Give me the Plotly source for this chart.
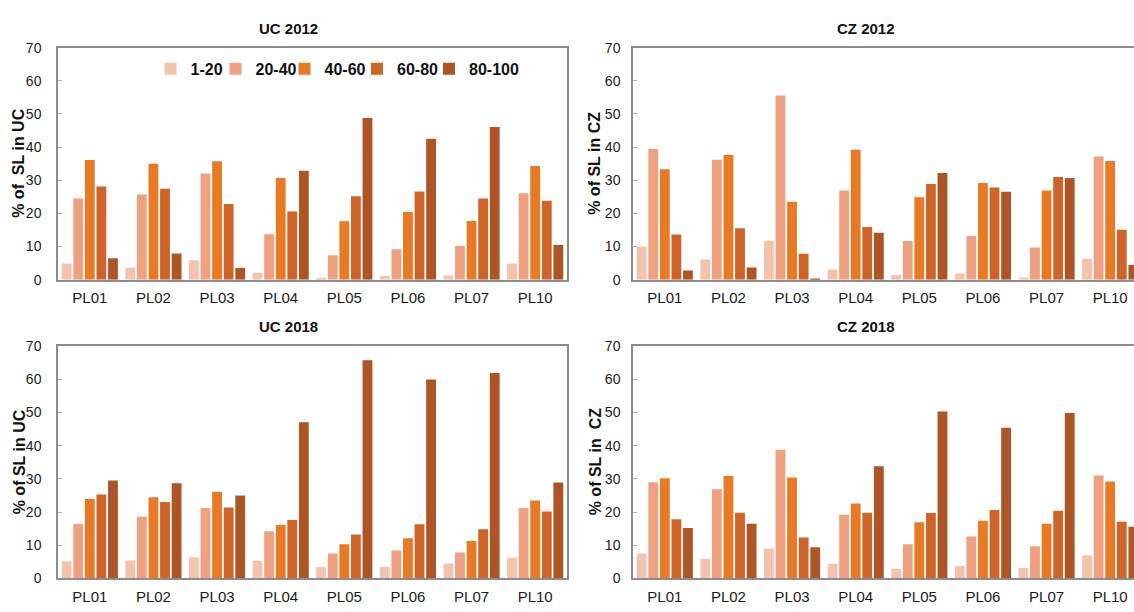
import plotly.graph_objects as go

W, H = 1134, 612

sites = ["PL01", "PL02", "PL03", "PL04", "PL05", "PL06", "PL07", "PL10"]
classes = ["1-20", "20-40", "40-60", "60-80", "80-100"]
colors = ["#F3C3AE", "#EEA081", "#E87A25", "#CE6428", "#AE5526"]

# UC 2012
uc2012_1_20 = [4.9, 3.6, 5.9, 2.1, 0.6, 1.1, 1.3, 4.9]
uc2012_20_40 = [24.5, 25.7, 32.0, 13.7, 7.4, 9.2, 10.2, 26.1]
uc2012_40_60 = [36.1, 35.0, 35.7, 30.7, 17.6, 20.4, 17.7, 34.3]
uc2012_60_80 = [28.1, 27.4, 22.8, 20.6, 25.2, 26.6, 24.5, 23.8]
uc2012_80_100 = [6.5, 7.9, 3.5, 32.9, 48.8, 42.5, 46.1, 10.5]

# CZ 2012
cz2012_1_20 = [10.0, 6.1, 11.7, 3.1, 1.4, 1.9, 0.7, 6.3]
cz2012_20_40 = [39.4, 36.2, 55.6, 26.9, 11.7, 13.2, 9.7, 37.2]
cz2012_40_60 = [33.3, 37.6, 23.5, 39.2, 24.9, 29.2, 26.9, 35.8]
cz2012_60_80 = [13.6, 15.5, 7.8, 15.9, 28.9, 27.8, 31.0, 15.1]
cz2012_80_100 = [2.8, 3.7, 0.4, 14.2, 32.2, 26.5, 30.7, 4.4]

# UC 2018
uc2018_1_20 = [5.2, 5.4, 6.4, 5.3, 3.4, 3.5, 4.5, 6.2]
uc2018_20_40 = [16.4, 18.6, 21.2, 14.2, 7.5, 8.4, 7.8, 21.2]
uc2018_40_60 = [23.9, 24.5, 26.1, 16.1, 10.3, 12.1, 11.3, 23.5]
uc2018_60_80 = [25.3, 23.0, 21.4, 17.6, 13.2, 16.3, 14.8, 20.2]
uc2018_80_100 = [29.5, 28.7, 25.0, 47.1, 65.8, 60.0, 61.9, 28.9]

# CZ 2018
cz2018_1_20 = [7.5, 5.9, 9.0, 4.4, 2.8, 3.7, 3.1, 6.9]
cz2018_20_40 = [29.0, 26.9, 38.8, 19.2, 10.3, 12.6, 9.7, 31.0]
cz2018_40_60 = [30.2, 30.9, 30.4, 22.6, 16.9, 17.4, 16.5, 29.2]
cz2018_60_80 = [17.8, 19.8, 12.3, 19.8, 19.7, 20.6, 20.4, 17.1]
cz2018_80_100 = [15.2, 16.5, 9.4, 33.8, 50.3, 45.4, 49.9, 15.6]

panels = [
    ("UC 2012", [uc2012_1_20, uc2012_20_40, uc2012_40_60, uc2012_60_80, uc2012_80_100],
     "% of\u00a0 SL in UC", "x", "y"),
    ("CZ 2012", [cz2012_1_20, cz2012_20_40, cz2012_40_60, cz2012_60_80, cz2012_80_100],
     "% of SL in CZ", "x2", "y2"),
    ("UC 2018", [uc2018_1_20, uc2018_20_40, uc2018_40_60, uc2018_60_80, uc2018_80_100],
     "% of SL in UC", "x3", "y3"),
    ("CZ 2018", [cz2018_1_20, cz2018_20_40, cz2018_40_60, cz2018_60_80, cz2018_80_100],
     "% of SL in\u00a0 CZ", "x4", "y4"),
]

FONT = "Arial, Liberation Sans, sans-serif"
LINE = "#8C8C8C"

fig = go.Figure()
legend_names = ["legend", "legend2", "legend3", "legend4", "legend5"]
for pi, (title, series, ytitle, xa, ya) in enumerate(panels):
    for ci, vals in enumerate(series):
        fig.add_trace(go.Bar(
            x=sites, y=vals, name=classes[ci],
            marker=dict(color=colors[ci], line=dict(width=0)),
            xaxis=xa, yaxis=ya,
            showlegend=(pi == 0), legend=legend_names[ci],
            legendgroup=classes[ci],
        ))

def px_x(p):
    return p / W

def px_y(p):
    return 1 - p / H

left_dom = [px_x(58), px_x(567)]
right_dom = [px_x(633), 1.0]
top_dom = [px_y(279), px_y(40.7)]
bot_dom = [px_y(585.7), px_y(347.3)]

grp = (567 - 58) / 8.0
right_max = -0.5 + (W - 633) / grp

def xaxis_cfg(dom, anchor, rng):
    return dict(domain=dom, anchor=anchor, type="category", range=rng,
                showline=True, linecolor=LINE, linewidth=1.5, mirror=True,
                ticks="", showgrid=False, zeroline=False,
                tickfont=dict(family=FONT, size=15, color="#1a1a1a"),
                ticklabelstandoff=4, fixedrange=True)

def yaxis_cfg(dom, anchor, mirror, standoff):
    return dict(domain=dom, anchor=anchor, range=[0, 70], dtick=10,
                showline=True, linecolor=LINE, linewidth=1.5, mirror=mirror,
                ticks="inside", ticklen=4, tickcolor="#B0B0B0",
                showgrid=False, zeroline=False,
                tickfont=dict(family=FONT, size=14, color="#1a1a1a"),
                ticklabelstandoff=standoff, fixedrange=True)

fig.update_layout(
    xaxis=xaxis_cfg(left_dom, "y", [-0.5, 7.5]),
    yaxis=yaxis_cfg(top_dom, "x", True, 12),
    xaxis2=xaxis_cfg(right_dom, "y2", [-0.5, right_max]),
    yaxis2=yaxis_cfg(top_dom, "x2", False, 8),
    xaxis3=xaxis_cfg(left_dom, "y3", [-0.5, 7.5]),
    yaxis3=yaxis_cfg(bot_dom, "x3", True, 12),
    xaxis4=xaxis_cfg(right_dom, "y4", [-0.5, right_max]),
    yaxis4=yaxis_cfg(bot_dom, "x4", False, 8),
)

# panel titles
title_pos = [(288, 21), (866, 21), (288, 327), (866, 327)]
for (title, _, _, _, _), (tx, ty) in zip(panels, title_pos):
    fig.add_annotation(text=title, x=px_x(tx), y=px_y(ty), xref="paper", yref="paper",
                       xanchor="center", yanchor="middle", showarrow=False,
                       font=dict(family=FONT, size=15, color="#111", weight="bold"))

# y-axis titles
ytitle_pos = [(19, 160), (595, 160), (19, 466.5), (595, 466.5)]
for (_, _, ytitle, _, _), (tx, ty) in zip(panels, ytitle_pos):
    fig.add_annotation(text=ytitle, x=px_x(tx), y=px_y(ty), xref="paper", yref="paper",
                       xanchor="center", yanchor="middle", showarrow=False, textangle=-90,
                       font=dict(family=FONT, size=16, color="#111", weight="bold"))

legend_x_px = [150.5, 215.5, 284.5, 357, 429]
leg_common = dict(orientation="h", yanchor="middle", xanchor="left", y=px_y(62.5),
                  bgcolor="rgba(0,0,0,0)", borderwidth=0,
                  font=dict(family=FONT, size=16, color="#111", weight="bold"))
for name, lx in zip(legend_names, legend_x_px):
    fig.update_layout({name: dict(x=px_x(lx), **leg_common)})

fig.update_layout(
    width=W, height=H,
    margin=dict(l=0, r=0, t=0, b=0),
    paper_bgcolor="white", plot_bgcolor="white",
    barmode="group", bargap=0.09, bargroupgap=0.15,
    font=dict(family=FONT, color="#1a1a1a"),
)

fig.write_html(
    "out.html",
    config={"displayModeBar": False},
    post_script="document.body.style.margin='0';document.body.style.overflow='hidden';",
)
